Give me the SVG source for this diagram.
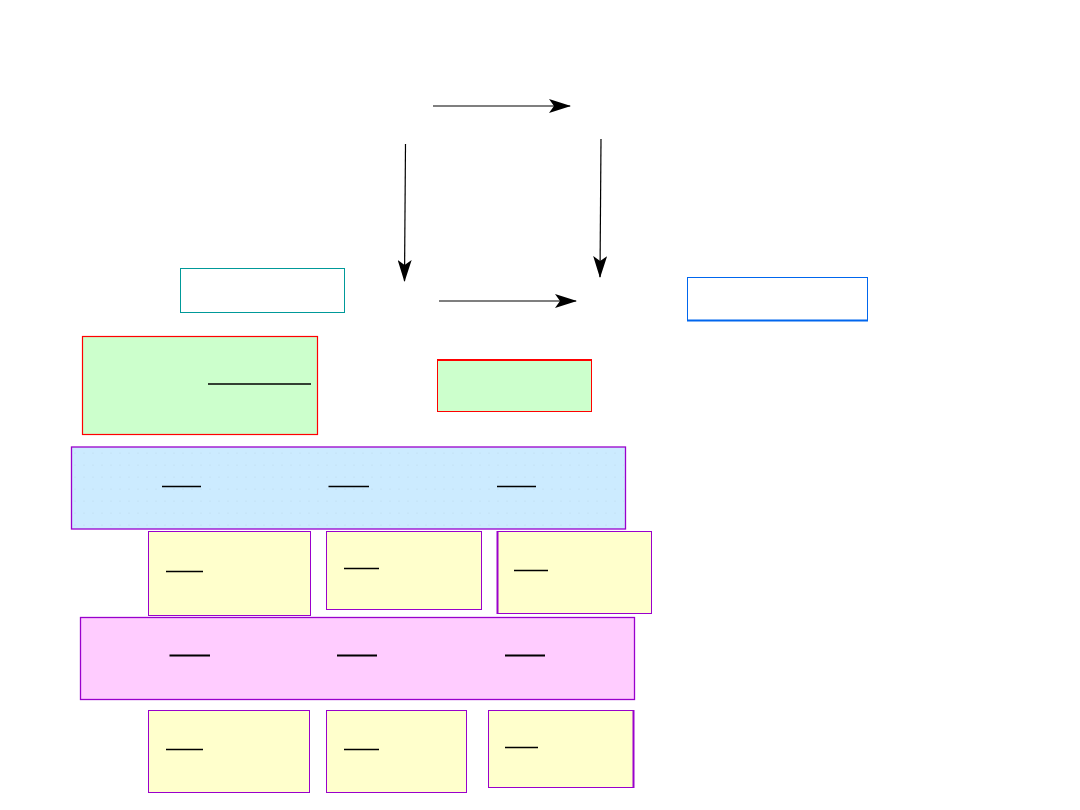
<svg xmlns="http://www.w3.org/2000/svg" width="1080" height="810" viewBox="0 0 1080 810">
<defs>
<marker id="ah" viewBox="0 0 22 14" refX="21" refY="7" markerWidth="22" markerHeight="14" markerUnits="userSpaceOnUse" orient="auto">
<path d="M0,0 L22,7 L0,14 L5,7 Z" fill="#000"/>
</marker>
<pattern id="dots" width="9" height="12" patternUnits="userSpaceOnUse" x="71" y="447">
<circle cx="4" cy="6" r="0.6" fill="#b8d6e8"/>
</pattern>
</defs>
<style>
.conn{stroke:#000;stroke-width:1.2;fill:none;marker-end:url(#ah)}
.yel{fill:#FFFFCC;stroke:#9900CC;stroke-width:1}
.band{stroke:#9900CC;stroke-width:1.3}
.u{stroke:#000;stroke-width:1.3}
.u2{stroke:#000;stroke-width:2}
</style>
<rect width="1080" height="810" fill="#fff"/>
<g id="connectors">
<line class="conn" x1="433" y1="106" x2="570" y2="106"/>
<line class="conn" x1="405.5" y1="144" x2="404.5" y2="281"/>
<line class="conn" x1="601" y1="139" x2="600" y2="277"/>
<line class="conn" x1="439" y1="301" x2="576" y2="301"/>
</g>
<g id="node-teal">
<rect x="180.5" y="268.5" width="164" height="44" fill="#fff" stroke="#009999" stroke-width="1"/>
</g>
<g id="node-blue-outline">
<rect x="687.5" y="277.5" width="180" height="43" fill="#fff" stroke="#0066EE" stroke-width="1"/>
<line x1="687" y1="320.5" x2="868" y2="320.5" stroke="#0066EE" stroke-width="2"/>
</g>
<g id="node-green-left">
<rect x="82.5" y="336.5" width="235" height="98" fill="#CCFFCC" stroke="#FF0000" stroke-width="1.2"/>
<line class="u" x1="208" y1="384" x2="311" y2="384"/>
</g>
<g id="node-green-right">
<rect x="437.5" y="360.5" width="154" height="51" fill="#CCFFCC" stroke="#FF0000" stroke-width="1"/>
<line x1="437" y1="360" x2="592" y2="360" stroke="#FF0000" stroke-width="2"/>
</g>
<g id="node-blue-band">
<rect x="71.5" y="447" width="554" height="82" fill="#CCEBFF" class="band"/>
<rect x="73" y="449" width="551" height="79" fill="url(#dots)"/>
<line class="u" x1="162" y1="486.5" x2="201" y2="486.5"/>
<line class="u" x1="328.5" y1="486.5" x2="369" y2="486.5"/>
<line class="u" x1="497" y1="486.5" x2="536" y2="486.5"/>
</g>
<g id="node-y1a">
<rect class="yel" x="148.5" y="531.5" width="162" height="84"/>
<line class="u" x1="166" y1="571.5" x2="203" y2="571.5"/>
</g>
<g id="node-y1b">
<rect class="yel" x="326.5" y="531.5" width="155" height="78"/>
<line class="u" x1="344" y1="568.5" x2="379" y2="568.5"/>
</g>
<g id="node-y1c">
<rect class="yel" x="497.5" y="531.5" width="154" height="82"/>
<line x1="497.5" y1="531" x2="497.5" y2="614" stroke="#9900CC" stroke-width="2"/>
<line class="u" x1="514" y1="570.5" x2="548" y2="570.5"/>
</g>
<g id="node-pink-band">
<rect x="80.5" y="617.5" width="554" height="82" fill="#FFCCFF" class="band"/>
<line class="u2" x1="169.5" y1="655.5" x2="210" y2="655.5"/>
<line class="u2" x1="337" y1="655.5" x2="377" y2="655.5"/>
<line class="u2" x1="505" y1="655.5" x2="545" y2="655.5"/>
</g>
<g id="node-y2a">
<rect class="yel" x="148.5" y="710.5" width="161" height="82"/>
<line class="u" x1="166" y1="749.5" x2="203" y2="749.5"/>
</g>
<g id="node-y2b">
<rect class="yel" x="326.5" y="710.5" width="140" height="82"/>
<line class="u" x1="344" y1="749.5" x2="379" y2="749.5"/>
</g>
<g id="node-y2c">
<rect class="yel" x="488.5" y="710.5" width="145" height="77"/>
<line x1="633.5" y1="710" x2="633.5" y2="788" stroke="#9900CC" stroke-width="2"/>
<line class="u" x1="505" y1="747.5" x2="538" y2="747.5"/>
</g>
</svg>
